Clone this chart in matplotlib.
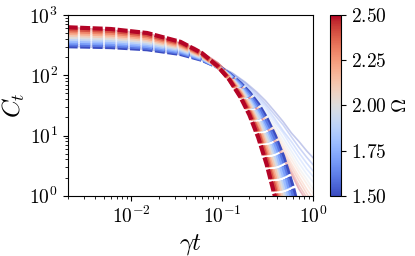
import matplotlib
matplotlib.use('Agg')
import matplotlib.pyplot as plt
from matplotlib import colors
from matplotlib.ticker import FormatStrFormatter

plt.rcParams['font.family'] = 'serif'
plt.rcParams['font.serif'] = ['cmr10']
plt.rcParams['mathtext.fontset'] = 'cm'
plt.rcParams['axes.formatter.use_mathtext'] = True
plt.rcParams['axes.unicode_minus'] = False

# values
omegas = [1.5, 1.6, 1.7, 1.8, 1.9, 2.0, 2.1, 2.2, 2.3, 2.4, 2.5]
cbar_ticks = [1.5, 1.75, 2.0, 2.25, 2.5]

# dashed curves
t_dashed = [0.002, 0.006, 0.015, 0.035, 0.06, 0.09, 0.12, 0.16, 0.2, 0.25, 0.31, 0.38, 0.47, 0.6, 0.72]
C_dashed = [
    [304, 294, 271, 226, 181, 138, 105, 73, 51, 33, 19, 10, 4.5, 1.4, 0.48],
    [327, 315, 288, 237, 185, 138, 103, 70, 47, 29, 16, 8.1, 3.3, 0.93, 0.29],
    [352, 337, 307, 248, 190, 138, 101, 66, 43, 25, 13, 6.4, 2.5, 0.62, 0.17],
    [378, 361, 326, 260, 195, 139, 98, 62, 39, 22, 11, 5.1, 1.8, 0.42, 0.1],
    [407, 387, 347, 272, 200, 139, 96, 59, 36, 20, 9.5, 4.0, 1.3, 0.28, 0.06],
    [437, 415, 369, 285, 206, 139, 94, 56, 33, 17, 8.0, 3.2, 1.0, 0.18, 0.04],
    [470, 445, 393, 298, 211, 140, 92, 53, 31, 15, 6.7, 2.6, 0.74, 0.12, 0.02],
    [506, 477, 418, 312, 217, 140, 90, 50, 28, 14, 5.6, 2.0, 0.54, 0.08, 0.01],
    [544, 511, 445, 327, 222, 140, 88, 48, 26, 12, 4.7, 1.6, 0.40, 0.05, 0.01],
    [584, 548, 473, 342, 228, 140, 86, 45, 24, 11, 4.0, 1.3, 0.30, 0.04, 0.01],
    [628, 587, 504, 359, 234, 141, 85, 43, 22, 9.3, 3.3, 1.0, 0.22, 0.02, 0.004],
]

# solid (faint) curves
t_solid = [0.002, 0.015, 0.05, 0.09, 0.13, 0.18, 0.24, 0.3, 0.38, 0.47, 0.58, 0.7, 0.85, 1.0]
C_solid = [
    [304, 271, 201, 146, 109, 77, 53, 38, 25, 17, 11, 8.0, 5.6, 4.3],
    [327, 289, 209, 148, 107, 74, 49, 34, 22, 15, 9.5, 6.4, 4.4, 3.3],
    [352, 307, 217, 149, 105, 70, 45, 31, 19, 12, 7.9, 5.2, 3.5, 2.6],
    [378, 327, 225, 150, 104, 67, 42, 28, 17, 11, 6.6, 4.3, 2.8, 2.1],
    [407, 348, 233, 152, 102, 65, 39, 25, 15, 9.2, 5.5, 3.5, 2.3, 1.7],
    [437, 370, 241, 153, 100, 62, 37, 23, 13, 7.9, 4.7, 2.9, 1.9, 1.3],
    [470, 394, 250, 155, 99, 59, 34, 21, 12, 6.9, 4.0, 2.5, 1.6, 1.1],
    [506, 420, 260, 156, 98, 57, 32, 19, 11, 6.0, 3.4, 2.1, 1.3, 0.92],
    [544, 446, 270, 158, 97, 55, 30, 18, 9.5, 5.3, 3.0, 1.8, 1.1, 0.77],
    [584, 475, 280, 160, 95, 53, 28, 16, 8.6, 4.7, 2.6, 1.5, 0.94, 0.66],
    [628, 506, 290, 162, 94, 51, 27, 15, 7.7, 4.2, 2.3, 1.3, 0.82, 0.57],
]

fig = plt.figure(figsize=(4.15, 2.56), dpi=100)
ax = fig.add_axes([0.163, 0.2355, 0.591, 0.7055])
cax = fig.add_axes([0.795, 0.2355, 0.0265, 0.7055])

norm = colors.Normalize(1.5, 2.5)
cmap = plt.get_cmap('coolwarm')

for om, c in zip(omegas, C_solid):
    ax.plot(t_solid, c, color=cmap(norm(om)), lw=1.2, alpha=0.3)
for om, c in zip(omegas, C_dashed):
    ax.plot(t_dashed, c, color=cmap(norm(om)), lw=3, ls=(0, (2.4, 0.6)))

ax.set_xscale('log')
ax.set_yscale('log')
ax.set_xlim(2e-3, 1)
ax.set_ylim(1, 1e3)
ax.set_xlabel(r'$\gamma t$', fontsize=18)
ax.set_ylabel(r'$C_t$', fontsize=18, labelpad=2)
ax.tick_params(labelsize=14)

sm = plt.cm.ScalarMappable(norm=norm, cmap=cmap)
cb = fig.colorbar(sm, cax=cax, ticks=cbar_ticks, format=FormatStrFormatter('$%.2f$'))
cb.set_label(r'$\Omega$', fontsize=14)
cb.ax.tick_params(labelsize=14)

fig.savefig('out.png', dpi=100)
